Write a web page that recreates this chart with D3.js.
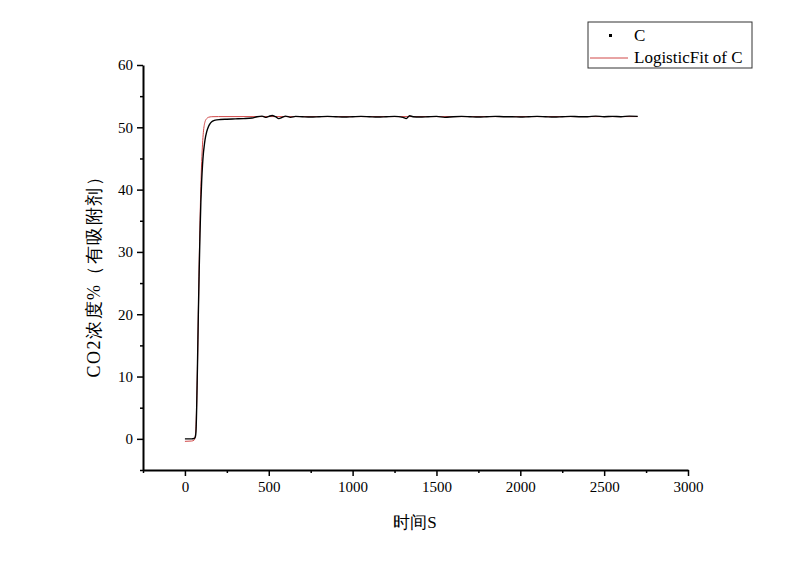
<!DOCTYPE html>
<html>
<head>
<meta charset="utf-8">
<script src="https://cdn.jsdelivr.net/npm/d3@7"></script>
<style>
body { margin: 0; background: #fff; }
svg text { font-family: "Liberation Serif", "Times New Roman", "DejaVu Serif", serif; }
</style>
</head>
<body>
<div id="chart"></div>
<script>
(function() {
var width = 800,
  height = 565;

// measured data C (time s, CO2 %)
var cTime = [0, 20, 40, 55, 62, 66, 70, 75, 80, 85, 90, 95, 100, 105, 110, 115, 120, 130, 140, 150,
  160, 175, 190, 210, 250, 300, 350, 400, 430, 460, 480, 500, 520, 540, 560, 580, 600, 630, 660,
  700, 750, 800, 850, 900, 950, 1000, 1050, 1100, 1150, 1200, 1250, 1300, 1320, 1340, 1360, 1400,
  1450, 1500, 1550, 1600, 1650, 1700, 1750, 1800, 1850, 1900, 1950, 2000, 2050, 2100, 2150, 2200,
  2250, 2300, 2350, 2400, 2450, 2500, 2550, 2600, 2650, 2700];
var cValue = [0, 0, 0, 0.05, 0.3, 1.2, 5, 12, 20, 27, 33, 38, 41.5, 44, 45.8, 47, 48, 49.3, 50.1, 50.6,
  50.9, 51.1, 51.2, 51.25, 51.3, 51.35, 51.4, 51.5, 51.7, 51.8, 51.6, 51.75, 51.9, 51.7, 51.4, 51.6, 51.8, 51.6, 51.75,
  51.7, 51.65, 51.7, 51.75, 51.7, 51.65, 51.7, 51.75, 51.7, 51.65, 51.7, 51.75, 51.6, 51.4, 51.85, 51.7, 51.65,
  51.7, 51.75, 51.6, 51.7, 51.75, 51.7, 51.65, 51.7, 51.75, 51.7, 51.7, 51.65, 51.7, 51.75, 51.7, 51.65,
  51.7, 51.75, 51.7, 51.7, 51.8, 51.7, 51.75, 51.7, 51.8, 51.75];

// logistic fit of C
var fitTime = [0, 40, 55, 62, 66, 70, 75, 80, 85, 90, 95, 100, 105, 110, 115, 120, 130, 140, 160, 200, 2700];
var fitValue = [-0.4, -0.35, -0.2, 0.5, 2, 5.5, 12, 20, 28, 35, 40.5, 44.5, 47.3, 49.2, 50.3, 50.9, 51.4, 51.6, 51.7, 51.72, 51.72];

var xTicks = [0, 500, 1000, 1500, 2000, 2500, 3000];
var yTicks = [0, 10, 20, 30, 40, 50, 60];

var svg = d3.select("#chart")
  .append("svg")
  .attr("width", width)
  .attr("height", height);

var x = d3.scaleLinear().domain([-250, 3000]).range([143, 688]);
var y = d3.scaleLinear().domain([-5, 60]).range([470, 65]);

// axes
var xMinor = d3.range(-250, 3001, 250).filter(function(d) { return xTicks.indexOf(d) < 0; });
var yMinor = d3.range(-5, 61, 5).filter(function(d) { return yTicks.indexOf(d) < 0; });

svg.append("g")
  .attr("transform", "translate(0,470)")
  .call(d3.axisBottom(x).tickValues(xTicks).tickFormat(d3.format("d")).tickSize(6).tickPadding(5).tickSizeOuter(0));
svg.append("g")
  .attr("transform", "translate(0,470)")
  .call(d3.axisBottom(x).tickValues(xMinor).tickSize(3).tickFormat("").tickSizeOuter(0))
  .select(".domain").remove();

svg.append("g")
  .attr("transform", "translate(143,0)")
  .call(d3.axisLeft(y).tickValues(yTicks).tickSize(6).tickPadding(4).tickSizeOuter(0));
svg.append("g")
  .attr("transform", "translate(143,0)")
  .call(d3.axisLeft(y).tickValues(yMinor).tickSize(3).tickFormat("").tickSizeOuter(0))
  .select(".domain").remove();

svg.selectAll("g").attr("font-family", null);
svg.selectAll(".domain").attr("stroke", "#000").attr("stroke-width", 2);
svg.selectAll(".tick line").attr("stroke", "#000").attr("stroke-width", 1.5);
svg.selectAll(".tick text")
  .attr("font-size", 15)
  .attr("fill", "#000");

var cData = cTime.map(function(t, i) { return [t, cValue[i]]; });
var fitData = fitTime.map(function(t, i) { return [t, fitValue[i]]; });

var line = d3.line()
  .x(function(d) { return x(d[0]); })
  .y(function(d) { return y(d[1]); })
  .curve(d3.curveMonotoneX);

// fit first, data on top
svg.append("path")
  .datum(fitData)
  .attr("d", line)
  .attr("fill", "none")
  .attr("stroke", "#d04848")
  .attr("stroke-width", 1);

svg.append("path")
  .datum(cData)
  .attr("d", line)
  .attr("fill", "none")
  .attr("stroke", "#000")
  .attr("stroke-width", 1.4);

// axis titles
svg.append("text")
  .attr("x", 415)
  .attr("y", 528)
  .attr("text-anchor", "middle")
  .attr("font-size", 17)
  .text("时间S");

svg.append("text")
  .attr("transform", "translate(100,272) rotate(-90)")
  .attr("text-anchor", "middle")
  .attr("font-size", 18)
  .attr("letter-spacing", 1.5)
  .text("CO2浓度%（有吸附剂）");

// legend
var legend = svg.append("g");
legend.append("rect")
  .attr("x", 588).attr("y", 22)
  .attr("width", 164).attr("height", 46)
  .attr("fill", "#fff")
  .attr("stroke", "#333")
  .attr("stroke-width", 1);
legend.append("rect")
  .attr("x", 609).attr("y", 34)
  .attr("width", 3).attr("height", 3)
  .attr("fill", "#000");
legend.append("text")
  .attr("x", 634).attr("y", 41)
  .attr("font-size", 17)
  .text("C");
legend.append("line")
  .attr("x1", 590).attr("x2", 628)
  .attr("y1", 58).attr("y2", 58)
  .attr("stroke", "#d04848")
  .attr("stroke-width", 1);
legend.append("text")
  .attr("x", 634).attr("y", 63)
  .attr("font-size", 17)
  .text("LogisticFit of C");
})();
</script>
</body>
</html>
